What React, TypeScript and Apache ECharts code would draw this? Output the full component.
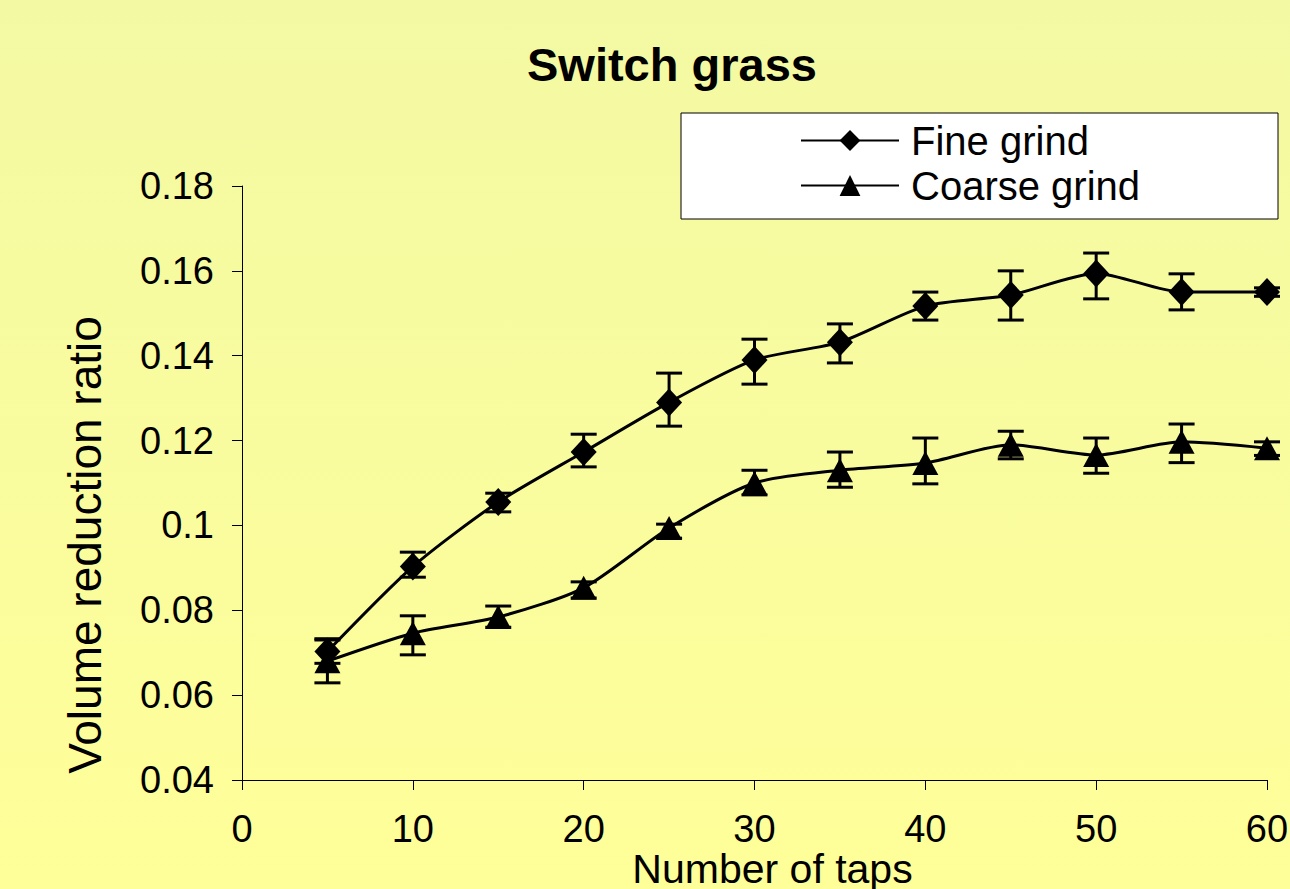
import React, { useEffect, useRef } from "react";
import * as echarts from "echarts";

const taps = [5, 10, 15, 20, 25, 30, 35, 40, 45, 50, 55, 60];
const fineValues = [0.0703, 0.0903, 0.1055, 0.1173, 0.129, 0.139, 0.1432, 0.1517, 0.1543, 0.1594, 0.155, 0.155];
const fineLow = [0.0675, 0.0878, 0.1032, 0.1138, 0.1234, 0.1333, 0.1383, 0.1484, 0.1484, 0.1534, 0.1508, 0.154];
const fineHigh = [0.0733, 0.0937, 0.1076, 0.1215, 0.1359, 0.1439, 0.1475, 0.155, 0.16, 0.1642, 0.1593, 0.156];
const coarseValues = [0.068, 0.0746, 0.0784, 0.0853, 0.0994, 0.11, 0.113, 0.1147, 0.119, 0.1166, 0.1197, 0.1182];
const coarseLow = [0.0629, 0.0695, 0.076, 0.0829, 0.097, 0.1072, 0.109, 0.1098, 0.1157, 0.1123, 0.1148, 0.1165];
const coarseHigh = [0.073, 0.0787, 0.081, 0.0867, 0.1003, 0.113, 0.1173, 0.1206, 0.1222, 0.1206, 0.1239, 0.1197];

const FONT = "Liberation Sans, Arial, sans-serif";

function errorSeries(name: string, low: number[], high: number[]) {
  return {
    type: "custom",
    name,
    data: taps.map((t, i) => [t, low[i], high[i]]),
    encode: { x: 0, y: [1, 2] },
    z: 3,
    silent: true,
    renderItem: (params: any, api: any) => {
      const x = api.value(0);
      const pLo = api.coord([x, api.value(1)]);
      const pHi = api.coord([x, api.value(2)]);
      const w = 13;
      const st = { stroke: "#000", lineWidth: 3 };
      return {
        type: "group",
        children: [
          { type: "line", shape: { x1: pLo[0], y1: pLo[1], x2: pHi[0], y2: pHi[1] }, style: st },
          { type: "line", shape: { x1: pLo[0] - w, y1: pLo[1], x2: pLo[0] + w, y2: pLo[1] }, style: st },
          { type: "line", shape: { x1: pHi[0] - w, y1: pHi[1], x2: pHi[0] + w, y2: pHi[1] }, style: st },
        ],
      };
    },
  };
}

export default function App() {
  const ref = useRef<HTMLDivElement>(null);
  useEffect(() => {
    if (!ref.current) return;
    const chart = echarts.init(ref.current, null, { renderer: "svg" });
    chart.setOption({
      animation: false,
      backgroundColor: {
        type: "linear",
        x: 0,
        y: 0,
        x2: 0,
        y2: 1,
        colorStops: [
          { offset: 0, color: "#F3F9A3" },
          { offset: 1, color: "#FFFF99" },
        ],
      },
      title: {
        text: "Switch grass",
        left: 522,
        top: 36,
        textStyle: { fontFamily: FONT, fontSize: 47, fontWeight: "bold", color: "#000" },
      },
      legend: {
        orient: "vertical",
        left: 681,
        top: 113,
        align: "left",
        data: ["Fine grind", "Coarse grind"],
        backgroundColor: "#fff",
        borderColor: "#000",
        borderWidth: 1,
        padding: [5, 138, 11, 119],
        itemWidth: 98,
        itemHeight: 26,
        itemGap: 0,
        textStyle: { fontFamily: FONT, fontSize: 40, color: "#000", lineHeight: 45, padding: [0, 0, 0, 7] },
      },
      grid: { left: 242, right: 23, top: 186, bottom: 109, outerBoundsMode: "none", containLabel: false },
      xAxis: {
        type: "value",
        min: 0,
        max: 60,
        interval: 10,
        name: "Number of taps",
        nameLocation: "middle",
        nameGap: 68,
        nameMoveOverlap: false,
        nameTextStyle: { fontFamily: FONT, fontSize: 41, color: "#000", padding: [0, 0, 0, 36] },
        axisLine: { lineStyle: { color: "#000", width: 1 } },
        axisTick: { show: true, length: 10, lineStyle: { color: "#000" } },
        axisLabel: { fontFamily: FONT, fontSize: 38, color: "#000", margin: 30 },
        splitLine: { show: false },
      },
      yAxis: {
        type: "value",
        min: 0.04,
        max: 0.18,
        interval: 0.02,
        name: "Volume reduction ratio",
        nameLocation: "middle",
        nameGap: 134,
        nameRotate: 90,
        nameMoveOverlap: false,
        nameTextStyle: { fontFamily: FONT, fontSize: 46, color: "#000", padding: [0, 124, 0, 0] },
        axisLine: { show: true, lineStyle: { color: "#000", width: 1 } },
        axisTick: { show: true, length: 10, lineStyle: { color: "#000" } },
        axisLabel: {
          fontFamily: FONT,
          fontSize: 38,
          color: "#000",
          margin: 28,
          formatter: (v: number) => String(Number(v.toFixed(2))),
        },
        splitLine: { show: false },
      },
      series: [
        errorSeries("fineErr", fineLow, fineHigh),
        errorSeries("coarseErr", coarseLow, coarseHigh),
        {
          type: "line",
          name: "Fine grind",
          data: taps.map((t, i) => [t, fineValues[i]]),
          smooth: 0.25,
          symbol: "diamond",
          symbolSize: [26, 28],
          z: 4,
          lineStyle: { color: "#000", width: 3 },
          itemStyle: { color: "#000" },
        },
        {
          type: "line",
          name: "Coarse grind",
          data: taps.map((t, i) => [t, coarseValues[i]]),
          smooth: 0.25,
          symbol: "triangle",
          symbolSize: [26, 24],
          z: 4,
          lineStyle: { color: "#000", width: 3 },
          itemStyle: { color: "#000" },
        },
      ],
    });
    return () => chart.dispose();
  }, []);
  return <div ref={ref} style={{ width: 1290, height: 889, position: "absolute", left: 0, top: 0 }} />;
}
